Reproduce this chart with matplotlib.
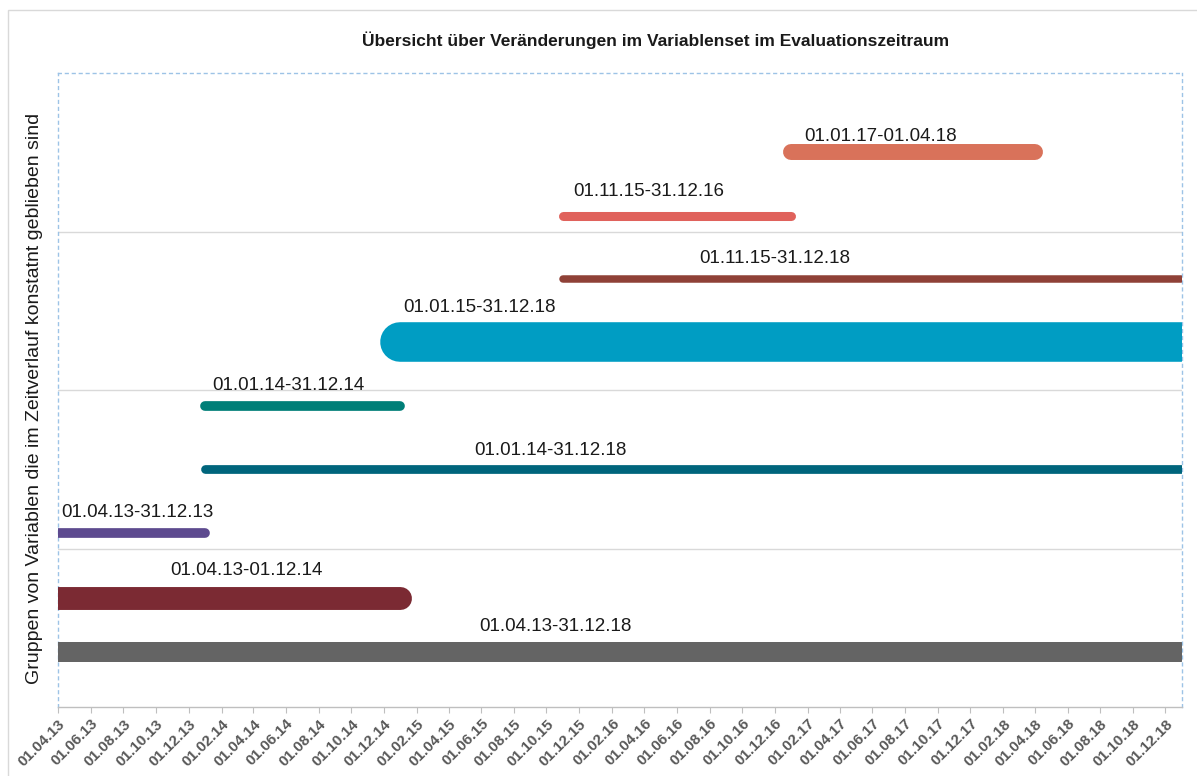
import datetime as dt
import matplotlib
matplotlib.use('Agg')
import matplotlib.pyplot as plt
import matplotlib.dates as mdates
from matplotlib.patches import Rectangle

plt.rcParams['font.family'] = ['Liberation Sans', 'DejaVu Sans']

# data: one line per group of variables (start, end, label)
labels = ['01.04.13-31.12.18', '01.04.13-01.12.14', '01.04.13-31.12.13',
          '01.01.14-31.12.18', '01.01.14-31.12.14', '01.01.15-31.12.18',
          '01.11.15-31.12.18', '01.11.15-31.12.16', '01.01.17-01.04.18']
starts = ['2013-04-01', '2013-04-01', '2013-04-01',
          '2014-01-01', '2014-01-01', '2015-01-01',
          '2015-11-01', '2015-11-01', '2017-01-01']
ends = ['2018-12-31', '2014-12-31', '2013-12-31',
        '2018-12-31', '2014-12-31', '2018-12-31',
        '2018-12-31', '2016-12-31', '2018-04-01']
rows = [0.35, 0.69, 1.10, 1.50, 1.90, 2.30, 2.70, 3.10, 3.50]

# styling
colors = ['#646464', '#7B2A33', '#5D4A8F', '#00657C', '#007F78',
          '#009DC3', '#8F4137', '#E0625C', '#D9725A']
widths = [14.4, 16.5, 7.0, 6.3, 7.0, 28.5, 5.4, 6.5, 11.5]  # pt
label_x = ['2015-10-18', '2014-03-19', '2013-04-07', '2015-10-09', '2014-06-06',
           '2015-05-28', '2016-12-01', '2016-04-09', '2017-06-16']
label_y = [0.51, 0.86, 1.23, 1.62, 2.03, 2.52, 2.83, 3.25, 3.60]
label_ha = ['center', 'center', 'left', 'center', 'center',
            'center', 'center', 'center', 'center']


def d(s):
    return mdates.date2num(dt.datetime.strptime(s, '%Y-%m-%d'))


fig = plt.figure(figsize=(11.97, 7.76), dpi=100)
ax = fig.add_axes([58 / 1197, 1 - 707 / 776, 1124 / 1197, 634 / 776])

# outer chart frame
fig.add_artist(Rectangle((8 / 1197, -0.1), 1.2, 1.1 - 10 / 776, transform=fig.transFigure,
                         fill=False, edgecolor='#D9D9D9', linewidth=1.0))

for i in range(len(labels)):
    ax.plot([d(starts[i]), d(ends[i])], [rows[i], rows[i]], color=colors[i],
            linewidth=widths[i], solid_capstyle='round', zorder=3)
    ax.text(d(label_x[i]), label_y[i], labels[i], ha=label_ha[i], va='center',
            fontsize=13.5, color='#1A1A1A', zorder=4)

ax.set_xlim(d('2013-04-01'), d('2019-01-01'))
ax.set_ylim(0, 4)

# gridlines between the groups
for g in [1, 2, 3]:
    ax.axhline(g, color='#D9D9D9', linewidth=1.0, zorder=1)

ticks = []
for k in range(35):
    m = 4 + 2 * k
    ticks.append(d('%d-%02d-01' % (2013 + (m - 1) // 12, (m - 1) % 12 + 1)))
ax.set_xticks(ticks)
ax.xaxis.set_major_formatter(mdates.DateFormatter('%d.%m.%y'))
plt.setp(ax.get_xticklabels(), rotation=45, ha='right', rotation_mode='anchor',
         fontsize=11, fontweight='bold', color='#595959')
ax.tick_params(axis='x', length=4, color='#BFBFBF', pad=3)
ax.set_yticks([])

for side in ['top', 'left', 'right']:
    ax.spines[side].set_color('#9DC3E6')
    ax.spines[side].set_linestyle((0, (2, 3)))
    ax.spines[side].set_linewidth(1.0)
ax.spines['bottom'].set_color('#BFBFBF')
ax.spines['bottom'].set_linewidth(1.0)

fig.text(656 / 1197, 1 - 40 / 776, 'Übersicht über Veränderungen im Variablenset im Evaluationszeitraum',
         ha='center', va='center', fontsize=12.5, fontweight='bold', color='#1A1A1A')
fig.text(35 / 1197, 1 - 398 / 776, 'Gruppen von Variablen die im Zeitverlauf konstatnt geblieben sind',
         ha='center', va='center', rotation=90, fontsize=14, color='#1A1A1A')

fig.savefig('out.png', dpi=100)
